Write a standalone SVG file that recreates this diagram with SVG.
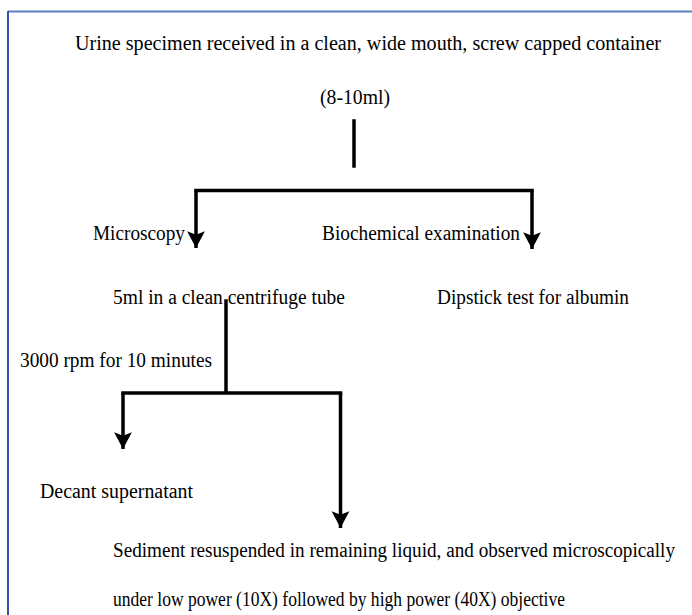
<svg xmlns="http://www.w3.org/2000/svg" width="692" height="615" viewBox="0 0 692 615">
<style>
text{font-family:"Liberation Serif","Times New Roman",serif;font-size:20px;fill:#000}
.ln{stroke:#000;stroke-width:3.5;fill:none;stroke-linecap:square}
.arr{stroke:#000;stroke-width:3.5;fill:none;marker-end:url(#ah)}
</style>
<defs>
<marker id="ah" markerUnits="userSpaceOnUse" markerWidth="18" markerHeight="20" refX="15" refY="0" viewBox="0 -9 16 18" orient="auto">
<path d="M0,-8 L15,0 L0,8 L3,0 z" fill="#000"/>
</marker>
</defs>
<rect width="692" height="615" fill="#fff"/>
<g id="frame">
<line x1="8" y1="11.5" x2="692" y2="11.5" stroke="#5b7fc4" stroke-width="2"/>
<line x1="8" y1="11" x2="8" y2="615" stroke="#2f55a8" stroke-width="2"/>
</g>
<g id="connectors">
<line class="ln" x1="354" y1="121" x2="354" y2="166"/>
<path class="ln" d="M196,190.5 H532"/>
<path class="arr" d="M196,190.5 V248"/>
<path class="arr" d="M532,190.5 V249"/>
<line class="ln" x1="226" y1="301" x2="226" y2="392"/>
<path class="ln" d="M123,393 H340.5"/>
<path class="arr" d="M123,393 V449"/>
<path class="arr" d="M340.5,393 V528"/>
</g>
<g id="n-specimen"><text x="75" y="50" textLength="586" lengthAdjust="spacingAndGlyphs">Urine specimen received in a clean, wide mouth, screw capped container</text></g>
<g id="n-volume"><text x="320" y="104" textLength="70" lengthAdjust="spacingAndGlyphs">(8-10ml)</text></g>
<g id="n-microscopy"><text x="93" y="240" textLength="92" lengthAdjust="spacingAndGlyphs">Microscopy</text></g>
<g id="n-biochem"><text x="322" y="240" textLength="198" lengthAdjust="spacingAndGlyphs">Biochemical examination</text></g>
<g id="n-tube"><text x="113" y="304" textLength="232" lengthAdjust="spacingAndGlyphs">5ml in a clean centrifuge tube</text></g>
<g id="n-dipstick"><text x="437" y="304" textLength="192" lengthAdjust="spacingAndGlyphs">Dipstick test for albumin</text></g>
<g id="n-rpm"><text x="20" y="367" textLength="192" lengthAdjust="spacingAndGlyphs">3000 rpm for 10 minutes</text></g>
<g id="n-decant"><text x="40" y="498" textLength="153" lengthAdjust="spacingAndGlyphs">Decant supernatant</text></g>
<g id="n-sediment">
<text x="113" y="557" textLength="562" lengthAdjust="spacingAndGlyphs">Sediment resuspended in remaining liquid, and observed microscopically</text>
<text x="113" y="606" textLength="452" lengthAdjust="spacingAndGlyphs">under low power (10X) followed by high power (40X) objective</text>
</g>
</svg>
